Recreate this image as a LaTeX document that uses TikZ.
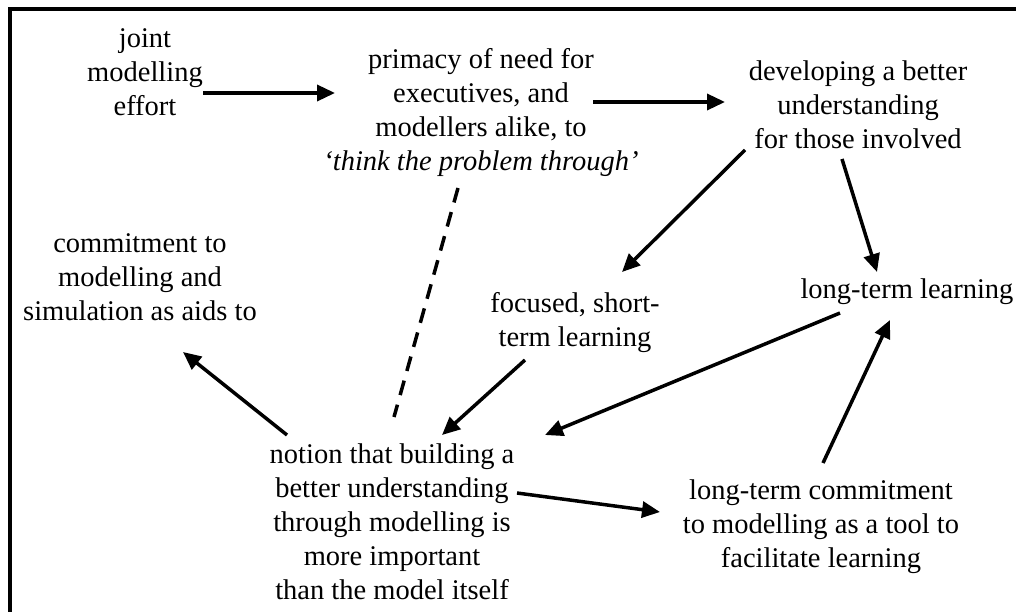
\documentclass[tikz,border=0pt]{standalone}
\usepackage{fontspec}
\setmainfont{Liberation Serif}
\usetikzlibrary{arrows.meta}
\begin{document}
\begin{tikzpicture}[x=1pt,y=-1pt,
  idea/.style={inner sep=0pt,align=center,font=\fontsize{28.5}{34}\selectfont},
  link/.style={line width=3.5pt,-{Triangle[length=18pt,width=16pt]}},
  tie/.style={line width=3.5pt,dash pattern=on 15pt off 10pt}]
\useasboundingbox (0,0) rectangle (1016,612);
% open frame: left and top edges
\draw[line width=3.5pt] (10,612) -- (10,9) -- (1016,9);

\node[idea] (joint)   at (145,72)  {joint\\modelling\\effort};
\node[idea] (primacy) at (481,113) {primacy of need for\\executives, and\\modellers alike, to\\\textit{‘think the problem through’}};
\node[idea] (dev)     at (858,105) {developing a better\\understanding\\for those involved};
\node[idea] (commit)  at (140,277) {commitment to\\modelling and\\simulation as aids to};
\node[idea] (focused) at (575,323) {focused, short-\\term learning};
\node[idea] (ltl)     at (907,292) {long-term learning};
\node[idea] (notion)  at (392,522) {notion that building a\\better understanding\\through modelling is\\more important\\than the model itself};
\node[idea] (ltc)     at (821,527) {long-term commitment\\to modelling as a tool to\\facilitate learning};

\draw[link] ([shift={(58,21)}]joint.center)    -- ([shift={(-146,-20)}]primacy.center);
\draw[link] ([shift={(112,-11)}]primacy.center) -- ([shift={(-133,-3)}]dev.center);
\draw[link] ([shift={(-113,45)}]dev.center)     -- ([shift={(47,-51)}]focused.center);
\draw[link] ([shift={(-16,54)}]dev.center)      -- ([shift={(-30,-20)}]ltl.center);
\draw[link] ([shift={(-67,21)}]ltl.center)      -- ([shift={(153,-87)}]notion.center);
\draw[link] ([shift={(-50,37)}]focused.center)  -- ([shift={(50,-87)}]notion.center);
\draw[link] ([shift={(-105,-87)}]notion.center) -- ([shift={(43,75)}]commit.center);
\draw[link] ([shift={(125,-29)}]notion.center)  -- ([shift={(-161,-15)}]ltc.center);
\draw[link] ([shift={(2,-64)}]ltc.center)       -- ([shift={(-17,28)}]ltl.center);
\draw[tie]  ([shift={(-23,75)}]primacy.center)  -- ([shift={(2,-105)}]notion.center);
\end{tikzpicture}
\end{document}
